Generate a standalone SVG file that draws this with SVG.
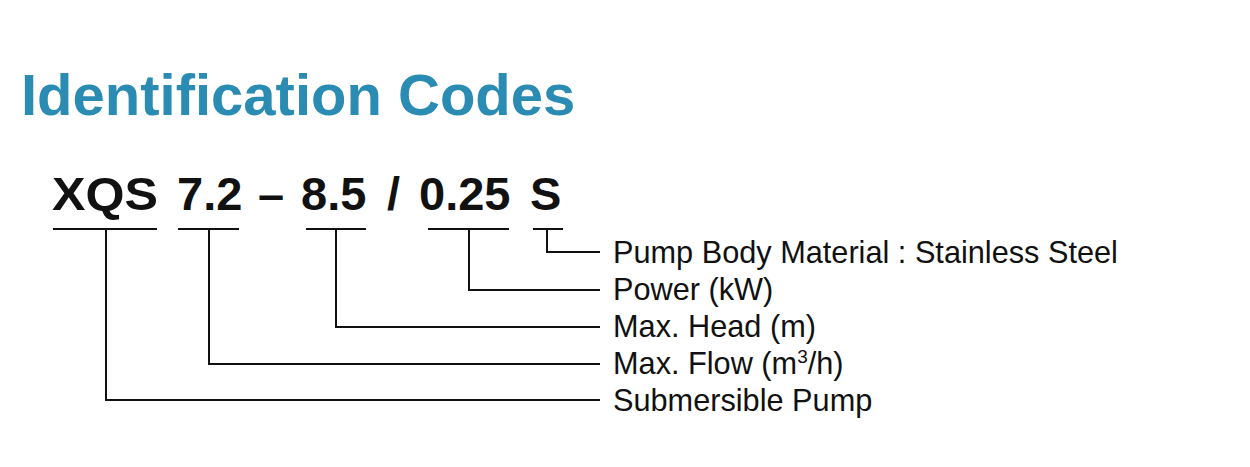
<svg xmlns="http://www.w3.org/2000/svg" width="1250" height="467" viewBox="0 0 1250 467">
<style>
.title{font-family:"Liberation Sans",Arial,sans-serif;font-weight:bold;font-size:58px;fill:#2a8bb3}
.code{font-family:"Liberation Sans",Arial,sans-serif;font-weight:bold;font-size:47px;fill:#111}
.lbl{font-family:"Liberation Sans",Arial,sans-serif;font-size:30.7px;fill:#111}
.ln{fill:none;stroke:#111;stroke-width:2}
</style>
<rect width="1250" height="467" fill="#fff"/>
<text class="title" x="21" y="115">Identification Codes</text>
<g id="code">
<text class="code" x="52" y="210" textLength="106" lengthAdjust="spacingAndGlyphs">XQS</text>
<text class="code" x="177" y="210">7.2</text>
<text class="code" x="258" y="210">–</text>
<text class="code" x="301" y="210">8.5</text>
<text class="code" x="387" y="210">/</text>
<text class="code" x="419" y="210">0.25</text>
<text class="code" x="530" y="210">S</text>
</g>
<g id="connectors">
<path class="ln" d="M53 229H157M106 229V400H600"/>
<path class="ln" d="M178 229H239M209 229V364H600"/>
<path class="ln" d="M306 229H366M336 229V327H600"/>
<path class="ln" d="M428 229H509M469 229V290H600"/>
<path class="ln" d="M533 229H563M547 229V252H600"/>
</g>
<g id="label-material"><text class="lbl" x="613" y="263">Pump Body Material : Stainless Steel</text></g>
<g id="label-power"><text class="lbl" x="613" y="300">Power (kW)</text></g>
<g id="label-head"><text class="lbl" x="613" y="337">Max. Head (m)</text></g>
<g id="label-flow"><text class="lbl" x="613" y="374">Max. Flow (m<tspan font-size="19" dy="-11">3</tspan><tspan dy="11">/h)</tspan></text></g>
<g id="label-pump"><text class="lbl" x="613" y="411">Submersible Pump</text></g>
</svg>
